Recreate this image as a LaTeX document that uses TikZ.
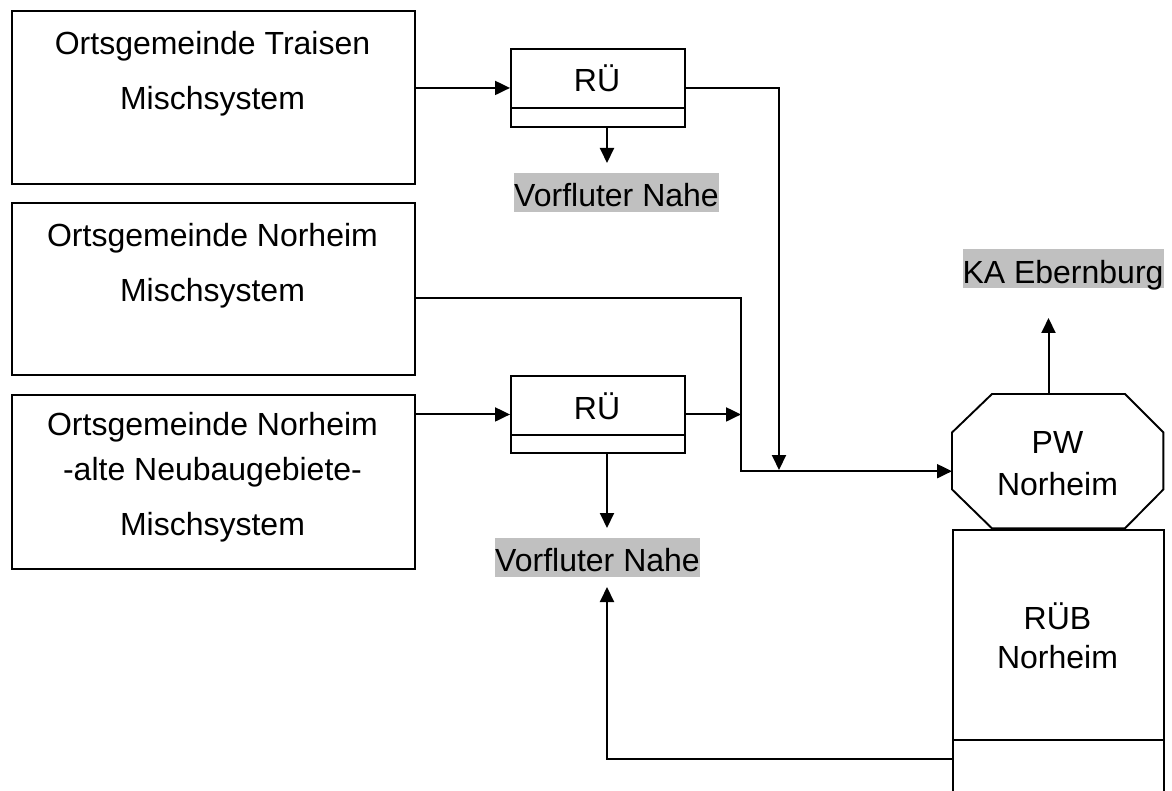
\documentclass[tikz,border=0pt]{standalone}
\usepackage{fontspec}
\setmainfont{Liberation Sans}
\usetikzlibrary{arrows.meta,calc}
\definecolor{silver}{RGB}{192,192,192}
\begin{document}
\begin{tikzpicture}[x=1pt,y=-1pt,
  font=\fontsize{32pt}{38pt}\selectfont,
  boxline/.style={draw=black,line width=1.9pt},
  frame/.style={boxline,inner sep=0pt,anchor=north west},
  txt/.style={inner sep=0pt,anchor=base},
  glabel/.style={fill=silver,inner xsep=0pt,inner ysep=0pt,text height=34pt,text depth=5pt},
  arr/.style={line width=2pt,-{Triangle[length=15pt,width=14pt]}},
  conn/.style={line width=2pt}]
\useasboundingbox (0,0) rectangle (1172,791);
\clip (0,0) rectangle (1172,791);
\fill[white] (0,0) rectangle (1172,791);

% source boxes
\node[frame,minimum width=403pt,minimum height=173pt] (box1) at (11,10) {};
\node[frame,minimum width=403pt,minimum height=172pt] (box2) at (11,202) {};
\node[frame,minimum width=403pt,minimum height=174pt] (box3) at (11,394) {};
\node[txt] (t1a) at (212.5,55) {Ortsgemeinde Traisen};
\node[txt] (t1b) at (212.5,110) {Mischsystem};
\node[txt] (t2a) at (212.5,247) {Ortsgemeinde Norheim};
\node[txt] (t2b) at (212.5,302) {Mischsystem};
\node[txt] (t3a) at (212.5,435) {Ortsgemeinde Norheim};
\node[txt] (t3b) at (212.5,480) {-alte Neubaugebiete-};
\node[txt] (t3c) at (212.5,535) {Mischsystem};

% RÜ boxes
\node[frame,minimum width=174pt,minimum height=78pt] (ru1) at (510,48) {};
\draw[boxline] ($(ru1.south west)+(0,-20)$) -- ($(ru1.south east)+(0,-20)$);
\node[txt] (ru1t) at (597,92) {RÜ};
\node[frame,minimum width=174pt,minimum height=77pt] (ru2) at (510,375) {};
\draw[boxline] ($(ru2.south west)+(0,-19)$) -- ($(ru2.south east)+(0,-19)$);
\node[txt] (ru2t) at (597,419) {RÜ};

% PW octagon
\node[inner sep=0pt,anchor=north west,minimum width=211pt,minimum height=134pt] (pw) at (952,394) {};
\draw[boxline] ($(pw.north west)+(40,0)$) -- ($(pw.north east)+(-38.5,0)$)
  -- ($(pw.north east)+(0,38.5)$) -- ($(pw.south east)+(0,-39)$)
  -- ($(pw.south east)+(-38.5,0)$) -- ($(pw.south west)+(40,0)$)
  -- ($(pw.south west)+(0,-39)$) -- ($(pw.north west)+(0,38.5)$) -- cycle;
\node[txt] (pwt1) at (1057.5,453) {PW};
\node[txt] (pwt2) at (1057.5,495) {Norheim};

% RÜB
\node[frame,minimum width=211pt,minimum height=290pt] (rub) at (952,529) {};
\draw[boxline] ($(rub.north west)+(0,211)$) -- ($(rub.north east)+(0,211)$);
\node[txt] (rubt1) at (1057.5,629) {RÜB};
\node[txt] (rubt2) at (1057.5,668) {Norheim};

% grey labels
\node[glabel] (vf1) at (616.5,192.5) {Vorfluter Nahe};
\node[glabel] (vf2) at (597.5,557) {Vorfluter Nahe};
\node[glabel] (ka) at (1063,269) {KA Ebernburg};

% connectors
\coordinate (a1) at (607,163);
\coordinate (j1) at (779,470);
\coordinate (c2) at (741,298);
\coordinate (pwin) at ($(pw.west)+(0,10)$);
\coordinate (a2) at (607,528);
\coordinate (a3) at (1048.5,318);
\coordinate (r1) at ($(rub.north west)+(0,230)$);
\coordinate (a4) at (607,587);

\draw[arr] (ru1.west -| box1.east) -- (ru1.west);
\draw[arr] (ru1.south -| a1) -- (a1);
\draw[arr] (ru1.east) -| (j1);
\draw[arr] (box2.east |- c2) -- (c2) |- (pwin);
\draw[arr] (ru2.west -| box3.east) -- (ru2.west);
\draw[arr] (ru2.east) -- (ru2.east -| c2);
\draw[arr] (ru2.south -| a2) -- (a2);
\draw[arr] (pw.north -| a3) -- (a3);
\draw[arr] (r1) -| (a4);
\end{tikzpicture}
\end{document}
